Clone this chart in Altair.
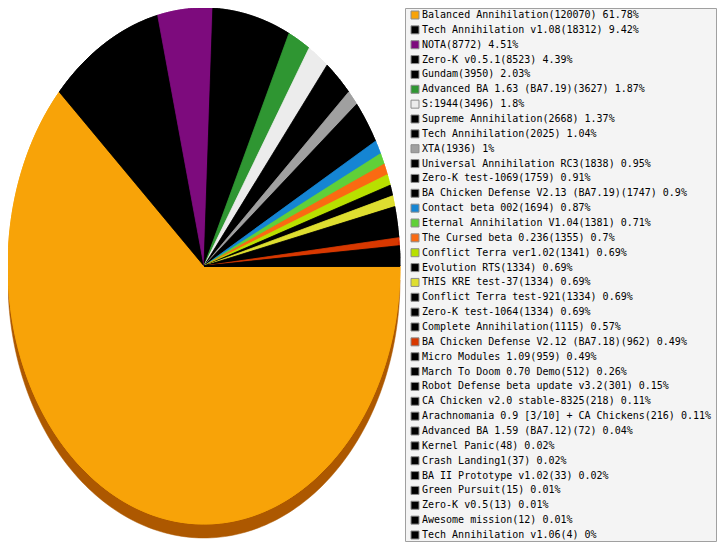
import altair as alt
import pandas as pd

names = [
    "Balanced Annihilation", "Tech Annihilation v1.08", "NOTA", "Zero-K v0.5.1",
    "Gundam", "Advanced BA 1.63 (BA7.19)", "S:1944", "Supreme Annihilation",
    "Tech Annihilation", "XTA", "Universal Annihilation RC3", "Zero-K test-1069",
    "BA Chicken Defense V2.13 (BA7.19)", "Contact beta 002", "Eternal Annihilation V1.04",
    "The Cursed beta 0.236", "Conflict Terra ver1.02", "Evolution RTS", "THIS KRE test-37",
    "Conflict Terra test-921", "Zero-K test-1064", "Complete Annihilation",
    "BA Chicken Defense V2.12 (BA7.18)", "Micro Modules 1.09", "March To Doom 0.70 Demo",
    "Robot Defense beta update v3.2", "CA Chicken v2.0 stable-8325",
    "Arachnomania 0.9 [3/10] + CA Chickens", "Advanced BA 1.59 (BA7.12)", "Kernel Panic",
    "Crash Landing1", "BA II Prototype v1.02", "Green Pursuit", "Zero-K v0.5",
    "Awesome mission", "Tech Annihilation v1.06",
]
counts = [
    120070, 18312, 8772, 8523, 3950, 3627, 3496, 2668, 2025, 1936, 1838, 1759,
    1747, 1694, 1381, 1355, 1341, 1334, 1334, 1334, 1334, 1115, 962, 959, 512,
    301, 218, 216, 72, 48, 37, 33, 15, 13, 12, 4,
]
pcts = [
    61.78, 9.42, 4.51, 4.39, 2.03, 1.87, 1.8, 1.37, 1.04, 1, 0.95, 0.91,
    0.9, 0.87, 0.71, 0.7, 0.69, 0.69, 0.69, 0.69, 0.69, 0.57, 0.49, 0.49, 0.26,
    0.15, 0.11, 0.11, 0.04, 0.02, 0.02, 0.02, 0.01, 0.01, 0.01, 0,
]
colors = [
    "#f8a308", "#000000", "#7d0b7d", "#000000", "#000000", "#2f9632", "#ececec",
    "#000000", "#000000", "#a0a0a0", "#000000", "#000000", "#000000", "#1585d3",
    "#60d038", "#fa6a12", "#b8e000", "#000000", "#dede30", "#000000", "#000000",
    "#000000", "#d83800", "#000000", "#000000", "#000000", "#000000", "#000000",
    "#000000", "#000000", "#000000", "#000000", "#000000", "#000000", "#000000",
    "#000000",
]
depth_color = "#ad5800"

labels = [f"{n}({c}) {p:g}%" for n, c, p in zip(names, counts, pcts)]

df = pd.DataFrame({
    "idx": list(range(len(names))),
    "name": names,
    "count": counts,
    "color": colors,
    "label": labels,
})

W, H = 709, 534
NSEG = 180

xs = alt.Scale(domain=[-1, -1 + W / 196.0], nice=False, zero=False)
ys = alt.Scale(domain=[1 - 2 * H / 516.0, 1], nice=False, zero=False)

pie_base = (
    alt.Chart(df)
    .transform_joinaggregate(total="sum(count)")
    .transform_window(cum="sum(count)", sort=[alt.SortField("idx")], frame=[None, 0])
    .transform_calculate(
        start="(datum.cum - datum.count) / datum.total",
        end="datum.cum / datum.total",
        k=f"sequence(0, {NSEG + 3})",
    )
    .transform_flatten(["k"])
    .transform_calculate(
        t=f"datum.start + (datum.end - datum.start) * clamp(datum.k - 1, 0, {NSEG}) / {NSEG}",
        ctr=f"datum.k == 0 || datum.k == {NSEG + 2}",
    )
    .transform_calculate(
        px="datum.ctr ? 0 : cos(2 * PI * datum.t)",
        py="datum.ctr ? 0 : -sin(2 * PI * datum.t)",
    )
)

enc = dict(
    x=alt.X("px:Q", scale=xs, axis=None),
    y=alt.Y("py:Q", scale=ys, axis=None),
    detail="idx:N",
    order="k:Q",
)

depth = (
    pie_base.transform_filter("datum.idx == 0")
    .mark_line(filled=True, yOffset=14, fill=depth_color, stroke=depth_color, strokeWidth=0.5)
    .encode(**enc)
)

slices = pie_base.mark_line(filled=True, strokeWidth=0.8, strokeJoin="round").encode(
    color=alt.Color("color:N", scale=None),
    stroke=alt.Stroke("color:N", scale=None),
    **enc,
)

box = alt.Chart(df).mark_rect(fill="#f4f4f4", stroke="#a0a0a0", strokeWidth=1).encode(
    x=alt.value(397.5), x2=alt.value(708.5), y=alt.value(0.5), y2=alt.value(533.5)
).transform_filter("datum.idx == 0")

ly = alt.Scale(domain=[-7 / 14.857, -7 / 14.857 + H / 14.857], reverse=True, nice=False, zero=False)

swatches = alt.Chart(df).mark_square(size=64, opacity=1, strokeWidth=1, stroke="#8c8c8c").encode(
    x=alt.value(407),
    y=alt.Y("idx:Q", scale=ly, axis=None),
    fill=alt.Fill("color:N", scale=None),
)

texts = alt.Chart(df).mark_text(
    align="left", baseline="middle", font="DejaVu Sans Mono", fontSize=10, color="#000000"
).encode(
    x=alt.value(414),
    y=alt.Y("idx:Q", scale=ly, axis=None),
    text="label:N",
)

chart = (
    alt.layer(depth, slices, slices, box, swatches, texts)
    .resolve_scale(x="independent", y="independent")
    .properties(width=W, height=H, padding=0, autosize=alt.AutoSizeParams(type="none"))
    .configure_view(stroke=None)
)

chart.save("out.html", embed_options={"renderer": "svg", "actions": False})
